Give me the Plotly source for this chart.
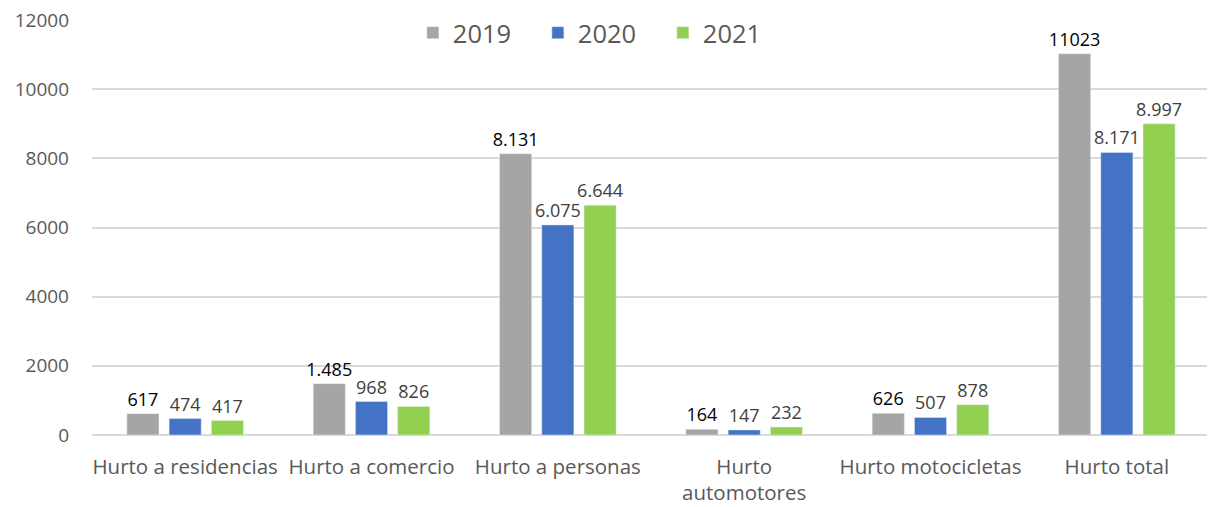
import plotly.graph_objects as go

categories = ["Hurto a residencias", "Hurto a comercio", "Hurto a personas",
              "Hurto<br>automotores", "Hurto motocicletas", "Hurto total"]
years = ["2019", "2020", "2021"]
v2019 = [617, 1485, 8131, 164, 626, 11023]
v2020 = [474, 968, 6075, 147, 507, 8171]
v2021 = [417, 826, 6644, 232, 878, 8997]
t2019 = ["617", "1.485", "8.131", "164", "626", "11023"]
t2020 = ["474", "968", "6.075", "147", "507", "8.171"]
t2021 = ["417", "826", "6.644", "232", "878", "8.997"]

colors = ["#A5A5A5", "#4472C4", "#92D050"]
label_colors = ["#000000", "#404040", "#404040"]
FONT = "Open Sans, Liberation Sans, Arial"

fig = go.Figure()
for name, vals, txt, c, lc in zip(years, [v2019, v2020, v2021], [t2019, t2020, t2021], colors, label_colors):
    fig.add_trace(go.Bar(
        x=categories, y=vals, name=name, marker_color=c,
        text=txt, textposition="outside", cliponaxis=False, constraintext="none",
        textfont=dict(size=18, color=lc, family=FONT),
    ))

fig.update_layout(
    width=1215, height=507,
    margin=dict(l=84, r=13, t=12, b=80, autoexpand=False),
    plot_bgcolor="white", paper_bgcolor="white",
    barmode="group", bargap=0.32, bargroupgap=0.24,
    font=dict(family=FONT, color="#595959", size=18),
    legend=dict(orientation="h", x=0.287, xanchor="left", y=1.025, yanchor="top",
                font=dict(size=25.5, color="#595959"), bgcolor="rgba(0,0,0,0)",
                itemwidth=30, entrywidth=80, traceorder="normal"),
)
fig.update_yaxes(range=[0, 12000], dtick=2000,
                 tickformat="d", showgrid=True, gridcolor="#D9D9D9",
                 gridwidth=1.5, zeroline=True, zerolinecolor="#D9D9D9", zerolinewidth=1.5,
                 tickfont=dict(size=19, color="#595959"), ticks="", ticklabelstandoff=22,
                 ticklabeloverflow="allow", automargin=False)
fig.update_xaxes(tickfont=dict(size=20.5, color="#595959"), showline=False, ticks="",
                 ticklabelstandoff=17, automargin=False)

fig.write_html("out.html")
